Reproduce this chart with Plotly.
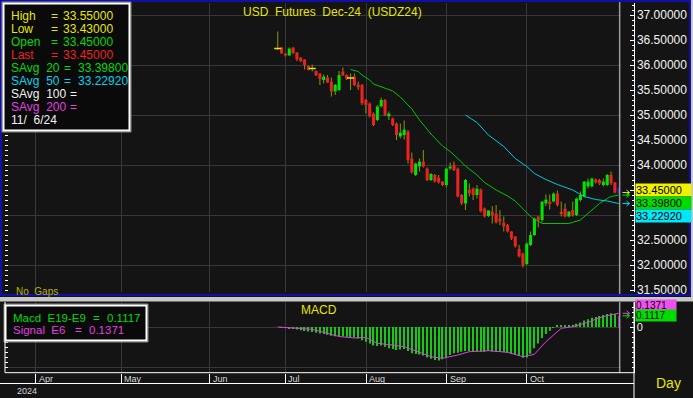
import plotly.graph_objects as go

W, H = 693, 398
def X(px): return px / W
def Y(py): return 1 - py / H

# ---------------- data ----------------
bars = list(range(90))
open_ = [36.33, 36.35, 36.23, 36.19, 36.35, 36.25, 36.15, 36.11, 35.98, 35.93,
         35.88, 35.83, 35.70, 35.75, 35.67, 35.47, 35.50, 35.87, 35.80, 35.74,
         35.77, 35.61, 35.60, 35.30, 35.23, 35.03, 34.90, 35.17, 35.30, 34.97,
         34.93, 34.83, 34.57, 34.60, 34.67, 34.13, 33.80, 33.97, 34.07, 33.93,
         33.70, 33.80, 33.75, 33.67, 33.60, 33.93, 34.00, 33.93, 33.40, 33.23,
         33.51, 33.53, 33.40, 33.51, 33.13, 32.98, 33.07, 33.03, 32.93, 32.85,
         32.80, 32.67, 32.57, 32.32, 32.23, 32.02, 32.40, 32.60, 32.97, 32.90,
         33.23, 33.27, 33.27, 33.43, 33.05, 33.13, 32.97, 33.10, 33.00, 33.30,
         33.37, 33.57, 33.57, 33.71, 33.70, 33.60, 33.60, 33.80, 33.65, 33.45]
high_ = [36.67, 36.36, 36.24, 36.35, 36.36, 36.26, 36.16, 36.12, 35.99, 36.01,
         35.89, 35.84, 35.81, 35.80, 35.75, 35.62, 35.88, 35.95, 35.81, 35.83,
         35.83, 35.67, 35.62, 35.32, 35.25, 35.05, 35.20, 35.35, 35.32, 35.07,
         34.95, 34.85, 34.83, 34.89, 34.70, 34.25, 34.05, 34.13, 34.30, 33.95,
         33.84, 33.82, 33.80, 33.68, 33.95, 34.05, 34.07, 33.95, 33.42, 33.72,
         33.63, 33.55, 33.60, 33.53, 33.15, 33.10, 33.18, 33.20, 33.10, 32.97,
         32.82, 32.68, 32.58, 32.40, 32.25, 32.45, 32.67, 32.95, 32.98, 33.28,
         33.41, 33.41, 33.45, 33.49, 33.27, 33.23, 33.08, 33.27, 33.35, 33.47,
         33.68, 33.73, 33.75, 33.73, 33.72, 33.73, 33.82, 33.87, 33.66, 33.55]
low_ = [36.30, 36.22, 36.17, 36.18, 36.22, 36.08, 36.06, 35.91, 35.89, 35.87,
        35.78, 35.60, 35.63, 35.64, 35.37, 35.40, 35.48, 35.78, 35.70, 35.50,
        35.58, 35.50, 35.20, 35.03, 34.95, 34.78, 34.88, 35.15, 34.98, 34.90,
        34.78, 34.50, 34.53, 34.51, 34.03, 33.83, 33.78, 33.87, 33.95, 33.68,
        33.68, 33.65, 33.63, 33.58, 33.55, 33.90, 33.88, 33.35, 33.20, 33.10,
        33.37, 33.30, 33.33, 33.05, 32.95, 32.96, 32.83, 32.83, 32.80, 32.67,
        32.65, 32.50, 32.35, 32.15, 31.95, 32.00, 32.38, 32.58, 32.75, 32.85,
        33.18, 33.11, 33.25, 33.17, 32.97, 32.95, 32.95, 32.97, 32.98, 33.27,
        33.35, 33.53, 33.55, 33.63, 33.60, 33.57, 33.58, 33.60, 33.43, 33.43]
close_ = [36.33, 36.23, 36.19, 36.33, 36.24, 36.11, 36.08, 36.00, 35.90, 35.93,
          35.79, 35.72, 35.77, 35.65, 35.47, 35.60, 35.80, 35.79, 35.72, 35.74,
          35.60, 35.55, 35.23, 35.20, 34.97, 34.80, 35.17, 35.30, 35.00, 35.03,
          34.80, 34.60, 34.65, 34.71, 34.10, 33.85, 34.03, 34.07, 33.97, 33.70,
          33.82, 33.67, 33.65, 33.60, 33.93, 33.97, 33.90, 33.37, 33.23, 33.70,
          33.43, 33.40, 33.53, 33.07, 32.97, 33.09, 33.00, 32.85, 32.87, 32.77,
          32.67, 32.53, 32.37, 32.17, 32.00, 32.43, 32.60, 32.93, 32.90, 33.27,
          33.31, 33.22, 33.43, 33.20, 33.02, 32.97, 33.07, 33.00, 33.33, 33.40,
          33.67, 33.67, 33.73, 33.65, 33.63, 33.67, 33.80, 33.63, 33.45, 33.45]

sma20_bar = [19, 21, 22, 24, 25, 27, 30, 32, 34, 35, 37, 38, 40, 43, 45, 47, 49, 52,
             54, 57, 60, 62, 63, 65, 66, 67, 69, 74, 76, 79, 81, 84, 86, 87, 89]
sma20_val = [35.91, 35.87, 35.80, 35.70, 35.62, 35.57, 35.48, 35.36, 35.20, 35.12,
             34.90, 34.80, 34.62, 34.38, 34.27, 34.13, 33.98, 33.80, 33.65, 33.50,
             33.38, 33.28, 33.20, 33.04, 32.97, 32.92, 32.83, 32.83, 32.83, 32.90,
             33.03, 33.23, 33.33, 33.37, 33.398]
sma50_bar = [49, 52, 55, 59, 62, 65, 67, 70, 73, 77, 80, 83, 86, 89]
sma50_val = [35.00, 34.85, 34.60, 34.37, 34.13, 33.97, 33.83, 33.71, 33.61, 33.50,
             33.37, 33.31, 33.28, 33.2292]

macd_val = [0.0, -0.003, -0.007, -0.011, -0.018, -0.026, -0.032, -0.039, -0.046, -0.051,
            -0.057, -0.064, -0.071, -0.078, -0.087, -0.092, -0.090, -0.092, -0.097, -0.101,
            -0.106, -0.115, -0.133, -0.147, -0.166, -0.184, -0.189, -0.184, -0.198, -0.212,
            -0.221, -0.230, -0.225, -0.221, -0.239, -0.262, -0.271, -0.276, -0.285, -0.304,
            -0.317, -0.331, -0.336, -0.322, -0.304, -0.281, -0.262, -0.258, -0.248, -0.239,
            -0.239, -0.241, -0.244, -0.248, -0.248, -0.239, -0.244, -0.248, -0.250, -0.253,
            -0.258, -0.267, -0.276, -0.290, -0.308, -0.304, -0.267, -0.212, -0.166, -0.110,
            -0.069, -0.037, -0.009, 0.014, 0.018, 0.018, 0.020, 0.023, 0.032, 0.046,
            0.064, 0.078, 0.092, 0.101, 0.110, 0.120, 0.129, 0.138, 0.129, 0.1117]
signal_bar = [0, 9, 16, 20, 23, 26, 30, 33, 37, 40, 43, 47, 50, 55, 60, 64, 67, 70,
              74, 77, 81, 84, 86, 89]
signal_val = [0.0, -0.023, -0.095, -0.110, -0.103, -0.163, -0.180, -0.197, -0.253,
              -0.297, -0.313, -0.280, -0.247, -0.237, -0.253, -0.297, -0.273, -0.147,
              -0.013, 0.003, 0.047, 0.093, 0.113, 0.1371]

month_labels = ['Apr', 'May', 'Jun', 'Jul', 'Aug', 'Sep', 'Oct']
month_pos = [-63.2, -40.8, -17.7, 2.0, 23.1, 44.1, 65.0]
year_label = '2024'
last_date = '11/\u00a0 6/24'

price_ticks = [31.5, 32.0, 32.5, 33.0, 33.5, 34.0, 34.5, 35.0, 35.5, 36.0, 36.5, 37.0]
covered_ticks = [33.0, 33.5]   # hidden behind the value tags in the reference

x_range = [-71.2, 89.6]
price_range = [31.46, 37.24]
macd_range = [-0.457, 0.25]

# ---------------- styles ----------------
BG = '#141414'
GRID = '#383838'
YELLOW = '#e6e600'
GREEN = '#00dc00'
RED = '#ee2222'
CYAN = '#00d4ee'
MAGENTA = '#e040e0'
WHITE = '#f2f2f2'
OLIVE = '#929200'
BLUE = '#1010a8'
FONT = 'Liberation Sans, Arial, sans-serif'

fig = go.Figure()
last = bars[-1]

# wicks (upper and lower parts, so they do not cross bodies)
wx, wy = [], []
for i in bars[:-1]:
    top = max(open_[i], close_[i]); bot = min(open_[i], close_[i])
    wx += [i, i, None, i, i, None]
    wy += [top, high_[i], None, low_[i], bot, None]
fig.add_trace(go.Scatter(x=wx, y=wy, mode='lines', line=dict(color=OLIVE, width=1),
                         hoverinfo='skip'))

# bodies
body_colors = []
for i in bars:
    if i == last:
        body_colors.append('#2020ff')
    elif close_[i] > open_[i]:
        body_colors.append('#00e400')
    else:
        body_colors.append('#ee2020')
fig.add_trace(go.Bar(x=bars, y=[abs(c - o) for o, c in zip(open_, close_)],
                     base=[min(o, c) for o, c in zip(open_, close_)],
                     width=0.8, marker=dict(color=body_colors, line=dict(width=0)),
                     hoverinfo='skip'))

# doji crossbars
doji = [i for i in bars[:-1] if open_[i] == close_[i]]
fig.add_trace(go.Scatter(x=doji, y=[close_[i] for i in doji], mode='markers',
                         marker=dict(symbol='line-ew', size=5,
                                     line=dict(color=YELLOW, width=1.5)),
                         hoverinfo='skip'))
# current bar
fig.add_trace(go.Scatter(x=[last, last], y=[low_[last], high_[last]], mode='lines',
                         line=dict(color='#2020ff', width=2.5), hoverinfo='skip'))

# moving averages
fig.add_trace(go.Scatter(x=sma20_bar, y=sma20_val, mode='lines',
                         line=dict(color='#00c400', width=1), hoverinfo='skip'))
fig.add_trace(go.Scatter(x=sma50_bar, y=sma50_val, mode='lines',
                         line=dict(color='#00c8e6', width=1), hoverinfo='skip'))

# MACD
macd_colors = ['#18c818'] * (len(bars) - 1) + ['#a020a0']
fig.add_trace(go.Bar(x=bars, y=macd_val, width=0.34, xaxis='x2', yaxis='y2',
                     marker=dict(color=macd_colors, line=dict(width=0)), hoverinfo='skip'))
fig.add_trace(go.Scatter(x=signal_bar, y=signal_val, mode='lines', xaxis='x2', yaxis='y2',
                         line=dict(color=MAGENTA, width=1), hoverinfo='skip'))

# helper traces for overlay axes
fig.add_trace(go.Scatter(x=[None], y=[None], xaxis='x', yaxis='y3', showlegend=False))
fig.add_trace(go.Scatter(x=[None], y=[None], xaxis='x2', yaxis='y4', showlegend=False))

# ---------------- layout ----------------
tick_font = dict(family=FONT, size=12, color=WHITE)
price_text = ['' if v in covered_ticks else f'{v:.5f}' for v in price_ticks]
fig.update_layout(
    width=W, height=H, margin=dict(l=0, r=0, t=0, b=0),
    paper_bgcolor=BG, plot_bgcolor=BG, showlegend=False, barmode='overlay',
    font=dict(family=FONT, size=12, color=WHITE),
    xaxis=dict(domain=[X(5), X(621)], range=x_range, anchor='y', tickvals=month_pos,
               showticklabels=False, ticks='', showgrid=True, gridcolor=GRID,
               zeroline=False, showline=False),
    xaxis2=dict(domain=[X(5), X(621)], range=x_range, anchor='y2', tickvals=month_pos,
                showticklabels=False, ticks='outside', ticklen=10, tickcolor='white',
                tickwidth=1, showgrid=True, gridcolor=GRID, zeroline=False, showline=False),
    yaxis=dict(domain=[Y(292), Y(3)], range=price_range, anchor='free', position=X(633.5),
               side='right', tickmode='array', tickvals=price_ticks, ticktext=price_text,
               ticks='inside', ticklen=4, tickcolor='white', showline=True,
               linecolor='white', linewidth=1, showgrid=False, zeroline=False,
               tickfont=tick_font, automargin=False,
               minor=dict(tickmode='linear', tick0=0, dtick=0.1, ticks='inside', ticklen=2,
                          tickcolor='white', showgrid=False)),
    yaxis3=dict(overlaying='y', side='left', anchor='x', range=price_range, tick0=0,
                dtick=1, showticklabels=False, ticks='inside', ticklen=3,
                tickcolor='white', showgrid=True, gridcolor=GRID, zeroline=False,
                showline=False, automargin=False,
                minor=dict(tick0=0, dtick=0.1, ticks='inside', ticklen=3,
                           tickcolor='white', showgrid=False)),
    yaxis2=dict(domain=[Y(372.7), Y(302)], range=macd_range, anchor='free',
                position=X(633.5), side='right', tick0=0, dtick=1, ticks='inside',
                ticklen=4, tickcolor='white', showline=True, linecolor='white',
                showgrid=False, zeroline=False,
                tickfont=dict(family=FONT, size=11, color=WHITE), automargin=False,
                minor=dict(tick0=0, dtick=0.05, ticks='inside', ticklen=2,
                           tickcolor='white', showgrid=False)),
    yaxis4=dict(overlaying='y2', side='left', anchor='x2', range=macd_range, tick0=0,
                dtick=0.4, showticklabels=False, ticks='inside', ticklen=3,
                tickcolor='white', showgrid=True, gridcolor=GRID, zeroline=False,
                showline=False, automargin=False,
                minor=dict(tick0=0, dtick=0.05, ticks='inside', ticklen=3,
                           tickcolor='white', showgrid=False)),
)

shapes = []
def prect(x0, y0, x1, y1, fill=None, line=None, lw=0, layer='above'):
    shapes.append(dict(type='rect', xref='paper', yref='paper', x0=X(x0), x1=X(x1),
                       y0=Y(y1), y1=Y(y0), fillcolor=fill or 'rgba(0,0,0,0)',
                       line=dict(color=line or 'rgba(0,0,0,0)', width=lw), layer=layer))
def pline(x0, y0, x1, y1, color, lw=1):
    shapes.append(dict(type='line', xref='paper', yref='paper', x0=X(x0), x1=X(x1),
                       y0=Y(y0), y1=Y(y1), line=dict(color=color, width=lw), layer='above'))

prect(691, 0, 693, 301, fill='#c8c8c8')
prect(0, 297, 693, 301.5, fill='#c8c8c8')
prect(1, 1, 690, 295, line=BLUE, lw=2)
# legend boxes (gray outer edge, white inner frame)
prect(2, 2, 131, 132, line='#8a8a8a', lw=1)
prect(3.5, 3.5, 129.5, 130.5, fill='#0a0a0a', line='white', lw=2)
prect(4, 304, 148, 342, line='#8a8a8a', lw=1)
prect(5.5, 305.5, 146.5, 340.5, fill='#0a0a0a', line='white', lw=2)
# current bar marker lines
for y0, y1 in [(2, 294), (302, 372.7)]:
    shapes.append(dict(type='line', xref='x', yref='paper', x0=89.25, x1=89.25,
                       y0=Y(y1), y1=Y(y0), line=dict(color='#9a9a9a', width=1.5),
                       layer='above'))
# date axis frame
pline(5, 372.7, 634, 372.7, 'white')
pline(0, 383.5, 634, 383.5, 'white')
pline(634, 302, 634, 398, 'white')
pline(5, 302, 5, 372.7, 'white')

# small value arrows next to the right axis (drawn as shapes)
main_unit = (price_range[1] - price_range[0]) / 289.0
macd_unit = (macd_range[1] - macd_range[0]) / 70.7
def arrow(val, color, yref, unit):
    d = 2.5 * unit
    shapes.append(dict(type='path', xref='paper', yref=yref,
                       path=(f'M {X(622.5)},{val} L {X(629.5)},{val} '
                             f'M {X(626.5)},{val + d} L {X(629.5)},{val} L {X(626.5)},{val - d}'),
                       line=dict(color=color, width=1), layer='above'))

arrow(close_[-1], YELLOW, 'y', main_unit)
arrow(sma20_val[-1], GREEN, 'y', main_unit)
arrow(sma50_val[-1], CYAN, 'y', main_unit)
arrow(signal_val[-1], MAGENTA, 'y2', macd_unit)
arrow(macd_val[-1], GREEN, 'y2', macd_unit)
fig.update_layout(shapes=shapes)

ann = []
def ptext(x, y, text, color, size=12, xanchor='left', **kw):
    ann.append(dict(xref='paper', yref='paper', x=X(x), y=Y(y), text=text,
                    showarrow=False, xanchor=xanchor, yanchor='middle',
                    font=dict(family=FONT, size=size, color=color), **kw))

ptext(332, 12, 'USD\u00a0 Futures\u00a0 Dec-24\u00a0 (USDZ24)', YELLOW, xanchor='center')
ptext(14, 291, 'No\u00a0 Gaps', '#b4b400', size=10)

n = len(bars) - 1
legend_rows = [
    ('High', YELLOW, 49, f'{high_[n]:.5f}', 61, 15.7),
    ('Low', YELLOW, 49, f'{low_[n]:.5f}', 61, 29),
    ('Open', GREEN, 49, f'{open_[n]:.5f}', 61, 42),
    ('Last', RED, 49, f'{close_[n]:.5f}', 61, 55),
    ('SAvg\u00a0 20', GREEN, 62, f'{sma20_val[-1]:.5f}', 76, 68),
    ('SAvg\u00a0 50', CYAN, 62, f'{sma50_val[-1]:.5f}', 76, 81),
    ('SAvg\u00a0 100', WHITE, 68, '', 80, 94),
    ('SAvg\u00a0 200', MAGENTA, 68, '', 80, 107),
]
for label, col, ex, val, vx, yy in legend_rows:
    ptext(9, yy, label, col)
    ptext(ex, yy, '=', col)
    if val:
        ptext(vx, yy, val, col)
ptext(9, 120, last_date, WHITE)

# MACD legend and title
ptext(319, 310, 'MACD', YELLOW, size=12, xanchor='center')
ptext(11, 318, 'Macd\u00a0 E19-E9', GREEN, size=11.5)
ptext(91, 318, '=', GREEN, size=11.5)
ptext(105, 318, f'{macd_val[-1]:.4f}', GREEN, size=11.5)
ptext(11, 330, 'Signal\u00a0 E6', MAGENTA, size=11.5)
ptext(73, 330, '=', MAGENTA, size=11.5)
ptext(87, 330, f'{signal_val[-1]:.4f}', MAGENTA, size=11.5)

# price tags on the right axis (stacked so they do not collide)
def tag(val, color, yshift, yref, text, width, size=11, height=12):
    ann.append(dict(xref='paper', yref=yref, x=X(635), y=val, yshift=yshift,
                    text=text, showarrow=False, xanchor='left', yanchor='middle',
                    bgcolor=color, width=width, height=height, borderpad=0, align='left',
                    font=dict(family=FONT, size=size, color='black')))

tag(close_[n], '#f0f000', 2.5, 'y', f'{close_[n]:.5f}', 55)
tag(sma20_val[-1], '#00dc00', -7.9, 'y', f'{sma20_val[-1]:.5f}', 55)
tag(sma50_val[-1], '#00e8f8', -12.5, 'y', f'{sma50_val[-1]:.5f}', 55)

tag(signal_val[-1], '#f050f0', 8.3, 'y2', f'{signal_val[-1]:.4f}', 40, size=10, height=10)
tag(macd_val[-1], '#00dc00', 0.0, 'y2', f'{macd_val[-1]:.4f}', 40, size=10, height=11)

# month labels on the date axis
for lab, pos in zip(month_labels, month_pos):
    ann.append(dict(xref='x2', yref='paper', x=pos, y=Y(379), text=lab, showarrow=False,
                    xanchor='left', yanchor='middle', xshift=1,
                    font=dict(family=FONT, size=9, color='#d8d8d8')))
ptext(15, 390.5, year_label, '#d8d8d8', size=9)
ptext(668, 383, 'Day', YELLOW, size=14, xanchor='center')

fig.update_layout(annotations=ann)
fig.write_html('out.html')
